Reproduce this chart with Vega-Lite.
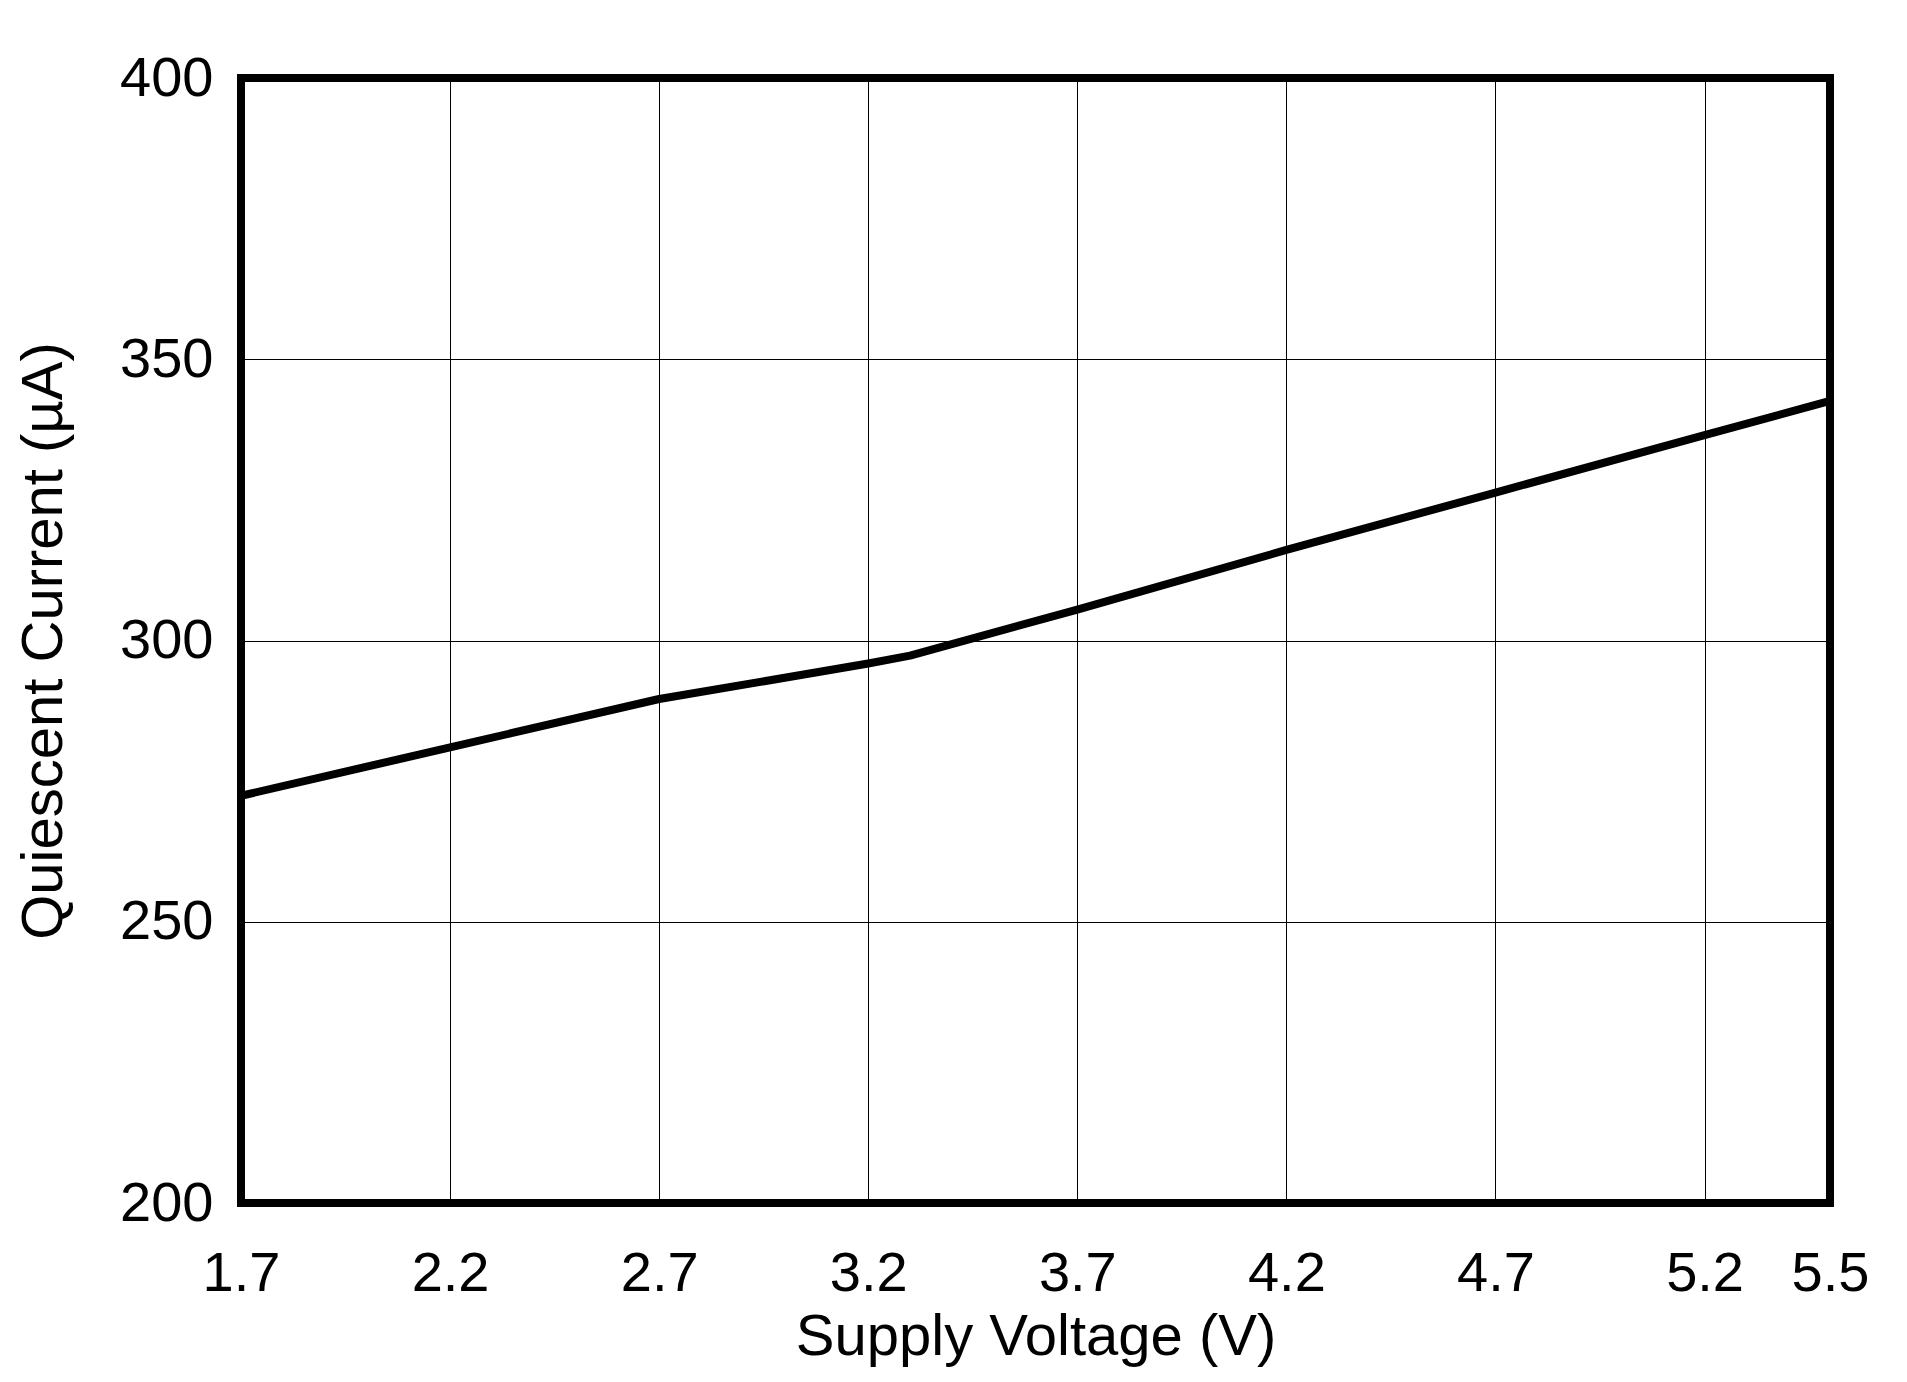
{
  "$schema": "https://vega.github.io/schema/vega-lite/v6.json",
  "width": 1589,
  "height": 1125,
  "autosize": {"type": "none"},
  "padding": {"left": 241, "top": 78, "right": 77, "bottom": 179},
  "background": "white",
  "config": {
    "font": "Liberation Sans",
    "view": {"stroke": "black", "strokeWidth": 8},
    "axis": {
      "grid": true,
      "gridColor": "black",
      "gridWidth": 1,
      "gridOpacity": 1,
      "domain": false,
      "ticks": false,
      "labelFont": "Liberation Sans",
      "labelFontSize": 56,
      "labelColor": "black",
      "titleFont": "Liberation Sans",
      "titleFontSize": 58,
      "titleFontWeight": "normal",
      "titleColor": "black",
      "labelOverlap": false,
      "labelFlush": false,
      "labelBound": false
    }
  },
  "data": {
    "values": [
      {"v": 1.7, "iq": 272.4},
      {"v": 2.2, "iq": 281.0},
      {"v": 2.7, "iq": 289.6},
      {"v": 3.2, "iq": 295.9},
      {"v": 3.3, "iq": 297.3},
      {"v": 3.7, "iq": 305.5},
      {"v": 4.2, "iq": 316.1},
      {"v": 4.7, "iq": 326.3},
      {"v": 5.2, "iq": 336.5},
      {"v": 5.5, "iq": 342.6}
    ]
  },
  "mark": {"type": "line", "color": "black", "strokeWidth": 8, "strokeJoin": "round", "strokeCap": "butt"},
  "encoding": {
    "x": {
      "field": "v",
      "type": "quantitative",
      "scale": {"domain": [1.7, 5.5], "nice": false, "zero": false},
      "axis": {
        "title": "Supply Voltage (V)",
        "values": [1.7, 2.2, 2.7, 3.2, 3.7, 4.2, 4.7, 5.2, 5.5],
        "format": ".1f",
        "labelPadding": 43,
        "labelAlign": "center",
        "labelBaseline": "top",
        "titleX": 794.5,
        "titleY": 151,
        "titleAlign": "center",
        "titleBaseline": "alphabetic"
      }
    },
    "y": {
      "field": "iq",
      "type": "quantitative",
      "scale": {"domain": [200, 400], "nice": false, "zero": false},
      "axis": {
        "title": "Quiescent Current (µA)",
        "values": [200, 250, 300, 350, 400],
        "labelPadding": 28,
        "labelAlign": "right",
        "labelBaseline": "middle",
        "titleX": -180,
        "titleY": 562.5,
        "titleAngle": -90,
        "titleAlign": "center",
        "titleBaseline": "alphabetic"
      }
    }
  }
}
